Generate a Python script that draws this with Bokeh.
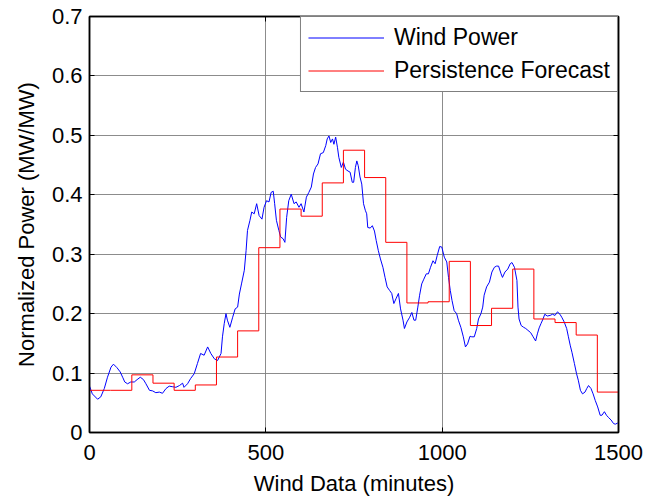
from bokeh.plotting import figure
from bokeh.models import Range1d, LinearAxis, FixedTicker, Legend, LegendItem
from bokeh.embed import file_html
from bokeh.resources import INLINE

# ---- data ----
wind_minutes = [0, 8, 23, 32, 42, 51, 61, 68, 78, 87, 94, 100, 108, 117, 127, 135, 144, 153, 160,
                170, 179, 188, 198, 207, 217, 226, 236, 245, 255, 264, 268, 278, 287, 297, 306,
                315, 325, 335, 344, 354, 363, 373, 377, 382, 387, 391, 398, 406, 413, 420, 425,
                431, 439, 444, 448, 455, 460, 467, 474, 481, 489, 495, 502, 509, 515, 521, 525,
                530, 537, 542, 549, 554, 559, 565, 572, 580, 586, 594, 600, 608, 615, 622, 629,
                635, 641, 648, 655, 663, 670, 674, 679, 684, 689, 693, 698, 703, 707, 714, 720,
                726, 733, 739, 745, 749, 754, 758, 762, 767, 772, 777, 782, 786, 789, 796, 802,
                808, 813, 819, 825, 832, 838, 844, 851, 857, 863, 869, 876, 882, 889, 893, 900,
                908, 914, 920, 925, 931, 936, 942, 948, 955, 961, 967, 974, 980, 986, 993, 999,
                1006, 1013, 1018, 1023, 1028, 1034, 1041, 1046, 1053, 1060, 1066, 1072, 1079,
                1084, 1091, 1098, 1103, 1110, 1115, 1119, 1126, 1134, 1141, 1148, 1154, 1160,
                1167, 1171, 1178, 1186, 1193, 1198, 1205, 1212, 1215, 1218, 1224, 1231, 1237,
                1243, 1251, 1258, 1265, 1270, 1275, 1280, 1286, 1291, 1298, 1306, 1313, 1320,
                1327, 1334, 1340, 1346, 1353, 1358, 1363, 1368, 1375, 1381, 1386, 1392, 1398,
                1405, 1410, 1415, 1422, 1428, 1434, 1441, 1448, 1453, 1460, 1466, 1472, 1479,
                1486, 1491, 1498]
wind_power = [0.078, 0.065, 0.056, 0.060, 0.074, 0.093, 0.110, 0.115, 0.109, 0.102, 0.093, 0.085,
              0.082, 0.085, 0.085, 0.089, 0.093, 0.089, 0.082, 0.071, 0.070, 0.067, 0.068, 0.066,
              0.074, 0.078, 0.077, 0.076, 0.079, 0.083, 0.076, 0.082, 0.091, 0.099, 0.116, 0.133,
              0.130, 0.144, 0.133, 0.124, 0.121, 0.133, 0.161, 0.183, 0.200, 0.189, 0.177, 0.194,
              0.208, 0.211, 0.233, 0.250, 0.273, 0.306, 0.340, 0.357, 0.371, 0.368, 0.385, 0.365,
              0.359, 0.379, 0.390, 0.388, 0.404, 0.406, 0.385, 0.357, 0.340, 0.329, 0.326, 0.320,
              0.362, 0.390, 0.401, 0.385, 0.388, 0.379, 0.385, 0.371, 0.396, 0.404, 0.413, 0.435,
              0.446, 0.452, 0.469, 0.471, 0.483, 0.494, 0.499, 0.488, 0.494, 0.485, 0.497, 0.480,
              0.463, 0.446, 0.455, 0.443, 0.440, 0.438, 0.421, 0.421, 0.446, 0.457, 0.449, 0.430,
              0.418, 0.385, 0.374, 0.368, 0.345, 0.344, 0.348, 0.339, 0.323, 0.306, 0.292, 0.278,
              0.261, 0.245, 0.239, 0.234, 0.217, 0.225, 0.234, 0.208, 0.189, 0.175, 0.186, 0.194,
              0.202, 0.189, 0.189, 0.211, 0.231, 0.250, 0.258, 0.267, 0.267, 0.278, 0.289, 0.284,
              0.298, 0.313, 0.312, 0.295, 0.287, 0.261, 0.239, 0.222, 0.205, 0.200, 0.189, 0.177,
              0.161, 0.144, 0.149, 0.162, 0.161, 0.161, 0.175, 0.191, 0.200, 0.211, 0.231, 0.245,
              0.253, 0.270, 0.278, 0.280, 0.280, 0.267, 0.261, 0.270, 0.275, 0.284, 0.286, 0.278,
              0.256, 0.211, 0.191, 0.180, 0.177, 0.175, 0.172, 0.168, 0.161, 0.154, 0.166, 0.176,
              0.183, 0.191, 0.199, 0.196, 0.197, 0.199, 0.197, 0.203, 0.199, 0.193, 0.186, 0.175,
              0.161, 0.147, 0.135, 0.116, 0.099, 0.088, 0.071, 0.065, 0.068, 0.074, 0.079, 0.074,
              0.065, 0.054, 0.043, 0.029, 0.029, 0.035, 0.029, 0.025, 0.021, 0.015, 0.014, 0.016]

forecast_start = [0, 60, 120, 180, 240, 300, 360, 420, 480, 540, 600, 660, 720, 780, 840, 900,
                  960, 1020, 1080, 1140, 1200, 1260, 1320, 1380, 1440, 1500]
forecast_value = [0.071, 0.071, 0.097, 0.083, 0.071, 0.080, 0.127, 0.171, 0.311, 0.376, 0.364,
                  0.420, 0.475, 0.429, 0.320, 0.218, 0.220, 0.288, 0.180, 0.209, 0.275, 0.191,
                  0.185, 0.164, 0.068, 0.068]

xticks = [0, 500, 1000, 1500]
yticks = [0, 0.1, 0.2, 0.3, 0.4, 0.5, 0.6, 0.7]
ytick_labels = ["0", "0.1", "0.2", "0.3", "0.4", "0.5", "0.6", "0.7"]

FONT = "Liberation Sans"
FS = "22px"

p = figure(width=647, height=498, output_backend="svg", toolbar_location=None,
           x_range=Range1d(0, 1500), y_range=Range1d(0, 0.7),
           min_border_left=89, min_border_right=29, min_border_top=16, min_border_bottom=66)
p.background_fill_color = "white"
p.border_fill_color = "white"
p.outline_line_color = "black"
p.outline_line_width = 1.5

r_wind = p.line(wind_minutes, wind_power, line_color="#0000ff", line_width=1)
r_fc = p.step(forecast_start, forecast_value, mode="after", line_color="#ff0000", line_width=1)

for ax in (p.xaxis[0], p.yaxis[0]):
    ax.axis_line_color = "black"
    ax.axis_line_width = 1.5
    ax.major_tick_in = 5
    ax.major_tick_out = 0
    ax.minor_tick_line_color = None
    ax.major_label_text_font = FONT
    ax.major_label_text_font_size = FS
    ax.major_label_text_color = "black"
    ax.axis_label_text_font = FONT
    ax.axis_label_text_font_size = FS
    ax.axis_label_text_font_style = "normal"
    ax.axis_label_text_color = "black"

p.xaxis[0].ticker = FixedTicker(ticks=xticks)
p.yaxis[0].ticker = FixedTicker(ticks=yticks)
p.yaxis[0].major_label_overrides = dict(zip(yticks, ytick_labels))
p.xaxis[0].axis_label = "Wind Data (minutes)"
p.yaxis[0].axis_label = "Normalized Power (MW/MW)"
p.xaxis[0].major_label_standoff = 12
p.xaxis[0].axis_label_standoff = 8
p.yaxis[0].major_label_standoff = 7
p.yaxis[0].axis_label_standoff = 10

# box axes (top and right) with inward ticks and no labels
top = LinearAxis(ticker=FixedTicker(ticks=xticks), major_label_text_font_size="0px",
                 major_tick_in=5, major_tick_out=0, minor_tick_line_color=None,
                 axis_line_color="black", axis_line_width=1.5, major_label_standoff=0)
right = LinearAxis(ticker=FixedTicker(ticks=yticks), major_label_text_font_size="0px",
                   major_tick_in=5, major_tick_out=0, minor_tick_line_color=None,
                   axis_line_color="black", axis_line_width=1.5, major_label_standoff=0)
p.add_layout(top, "above")
p.add_layout(right, "right")

p.xgrid.ticker = FixedTicker(ticks=xticks)
p.ygrid.ticker = FixedTicker(ticks=yticks)
for g in (p.xgrid[0], p.ygrid[0]):
    g.grid_line_color = "#808080"
    g.grid_line_width = 1
    g.grid_line_alpha = 0.9

legend = Legend(items=[LegendItem(label="Wind Power", renderers=[r_wind]),
                       LegendItem(label="Persistence Forecast", renderers=[r_fc])],
                location="top_right", margin=0, padding=7, spacing=6,
                glyph_width=76, glyph_height=23, label_height=23, label_standoff=10,
                label_text_font=FONT, label_text_font_size="23px", label_text_color="black",
                border_line_color="black", border_line_width=1.5,
                background_fill_color="white", background_fill_alpha=1)
p.add_layout(legend)

open("out.html", "w").write(file_html(p, INLINE))
